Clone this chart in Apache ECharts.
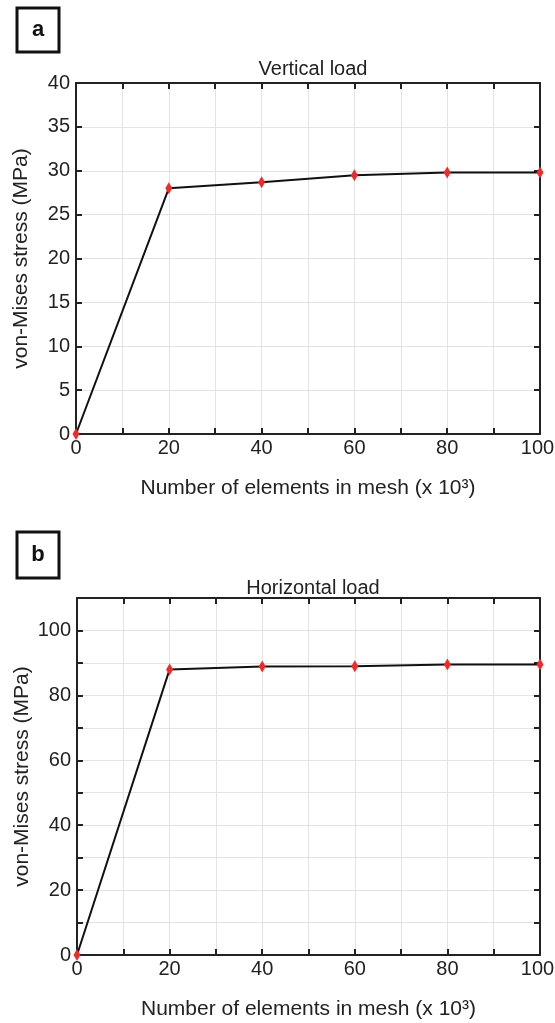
<!DOCTYPE html>
<html>
<head>
<meta charset="utf-8">
<script src="https://cdn.jsdelivr.net/npm/echarts@6/dist/echarts.min.js"></script>
<style>
  html, body { margin: 0; padding: 0; background: #fff; }
  #chart { width: 555px; height: 1023px; }
</style>
</head>
<body>
<div id="chart"></div>
<script>
// number of elements (x 10^3)
var elements = [0, 20, 40, 60, 80, 100];
// von-Mises stress (MPa)
var verticalLoad = [0, 28.0, 28.7, 29.5, 29.8, 29.8];
var horizontalLoad = [0, 88.0, 88.9, 89.0, 89.5, 89.5];

var titles = ['Vertical load', 'Horizontal load'];
var panelLetters = ['a', 'b'];

var font = 'Liberation Sans, Arial, sans-serif';
var axisColor = '#222';

function pairs(xs, ys) {
    return xs.map(function (x, i) { return [x, ys[i]]; });
}

function everyOther(step, max, isX) {
    return function (v) {
        if (v % step !== 0) return '';
        // pull the last x label in a little so it stays on the page
        if (isX && v === max) return '{m|' + v + '}';
        return String(v);
    };
}

function boxAxes(gridIndex, type, min, max, interval, labelStep, name, nameGap) {
    var main = {
        type: 'value', gridIndex: gridIndex, min: min, max: max, interval: interval,
        name: name, nameLocation: 'middle', nameGap: nameGap, nameMoveOverlap: false,
        nameTextStyle: { fontFamily: font, fontSize: 21, color: '#222' },
        axisLine: { show: true, onZero: false, lineStyle: { color: axisColor, width: 2 } },
        axisTick: { show: true, inside: true, length: 6, lineStyle: { color: axisColor, width: 2 } },
        axisLabel: { fontFamily: font, fontSize: 20, color: '#222', margin: type === 'x' ? 4 : 6,
                     formatter: everyOther(labelStep, max, type === 'x'),
                     rich: { m: { fontFamily: font, fontSize: 20, color: '#222', padding: [0, 5, 0, 0] } },
                     showMinLabel: true, showMaxLabel: true },
        splitLine: { show: true, lineStyle: { color: '#e3e3e3', width: 1 } }
    };
    var mirror = {
        type: 'value', gridIndex: gridIndex, min: min, max: max, interval: interval,
        position: type === 'x' ? 'top' : 'right',
        axisLine: { show: true, onZero: false, lineStyle: { color: axisColor, width: 2 } },
        axisTick: { show: true, inside: true, length: 6, lineStyle: { color: axisColor, width: 2 } },
        axisLabel: { show: false },
        splitLine: { show: false }
    };
    return [main, mirror];
}

var xa = boxAxes(0, 'x', 0, 100, 10, 20, 'Number of elements in mesh (x 10³)', 44);
var ya = boxAxes(0, 'y', 0, 40, 5, 5, 'von-Mises stress (MPa)', 44);
var xb = boxAxes(1, 'x', 0, 100, 10, 20, 'Number of elements in mesh (x 10³)', 44);
var yb = boxAxes(1, 'y', 0, 110, 10, 20, 'von-Mises stress (MPa)', 44);

function lineSeries(idx, values) {
    return {
        type: 'line', xAxisIndex: idx * 2, yAxisIndex: idx * 2,
        data: pairs(elements, values),
        symbol: 'diamond', symbolSize: [7, 12],
        itemStyle: { color: '#ee2b2b' },
        lineStyle: { color: '#111', width: 2 },
        clip: false, animation: false
    };
}

var option = {
    animation: false,
    title: [
        { text: titles[0], left: 308, top: 54, textAlign: 'center',
          textStyle: { fontFamily: font, fontSize: 20, fontWeight: 'normal', color: '#222' } },
        { text: titles[1], left: 308, top: 573, textAlign: 'center',
          textStyle: { fontFamily: font, fontSize: 20, fontWeight: 'normal', color: '#222' } }
    ],
    grid: [
        { left: 76, top: 83, width: 464, height: 351, outerBoundsMode: 'none', containLabel: false },
        { left: 77, top: 598, width: 463, height: 357, outerBoundsMode: 'none', containLabel: false }
    ],
    xAxis: [xa[0], xa[1], xb[0], xb[1]],
    yAxis: [ya[0], ya[1], yb[0], yb[1]],
    series: [lineSeries(0, verticalLoad), lineSeries(1, horizontalLoad)],
    graphic: [
        { type: 'rect', shape: { x: 17, y: 8, width: 42, height: 44 },
          style: { fill: '#fff', stroke: '#111', lineWidth: 3 } },
        { type: 'text', x: 38, y: 30,
          style: { text: panelLetters[0], font: 'bold 22px ' + font, fill: '#111', align: 'center', verticalAlign: 'middle' } },
        { type: 'rect', shape: { x: 17, y: 532, width: 42, height: 46 },
          style: { fill: '#fff', stroke: '#111', lineWidth: 3 } },
        { type: 'text', x: 38, y: 555,
          style: { text: panelLetters[1], font: 'bold 22px ' + font, fill: '#111', align: 'center', verticalAlign: 'middle' } }
    ]
};

var chart = echarts.init(document.getElementById('chart'));
chart.setOption(option);
</script>
</body>
</html>
